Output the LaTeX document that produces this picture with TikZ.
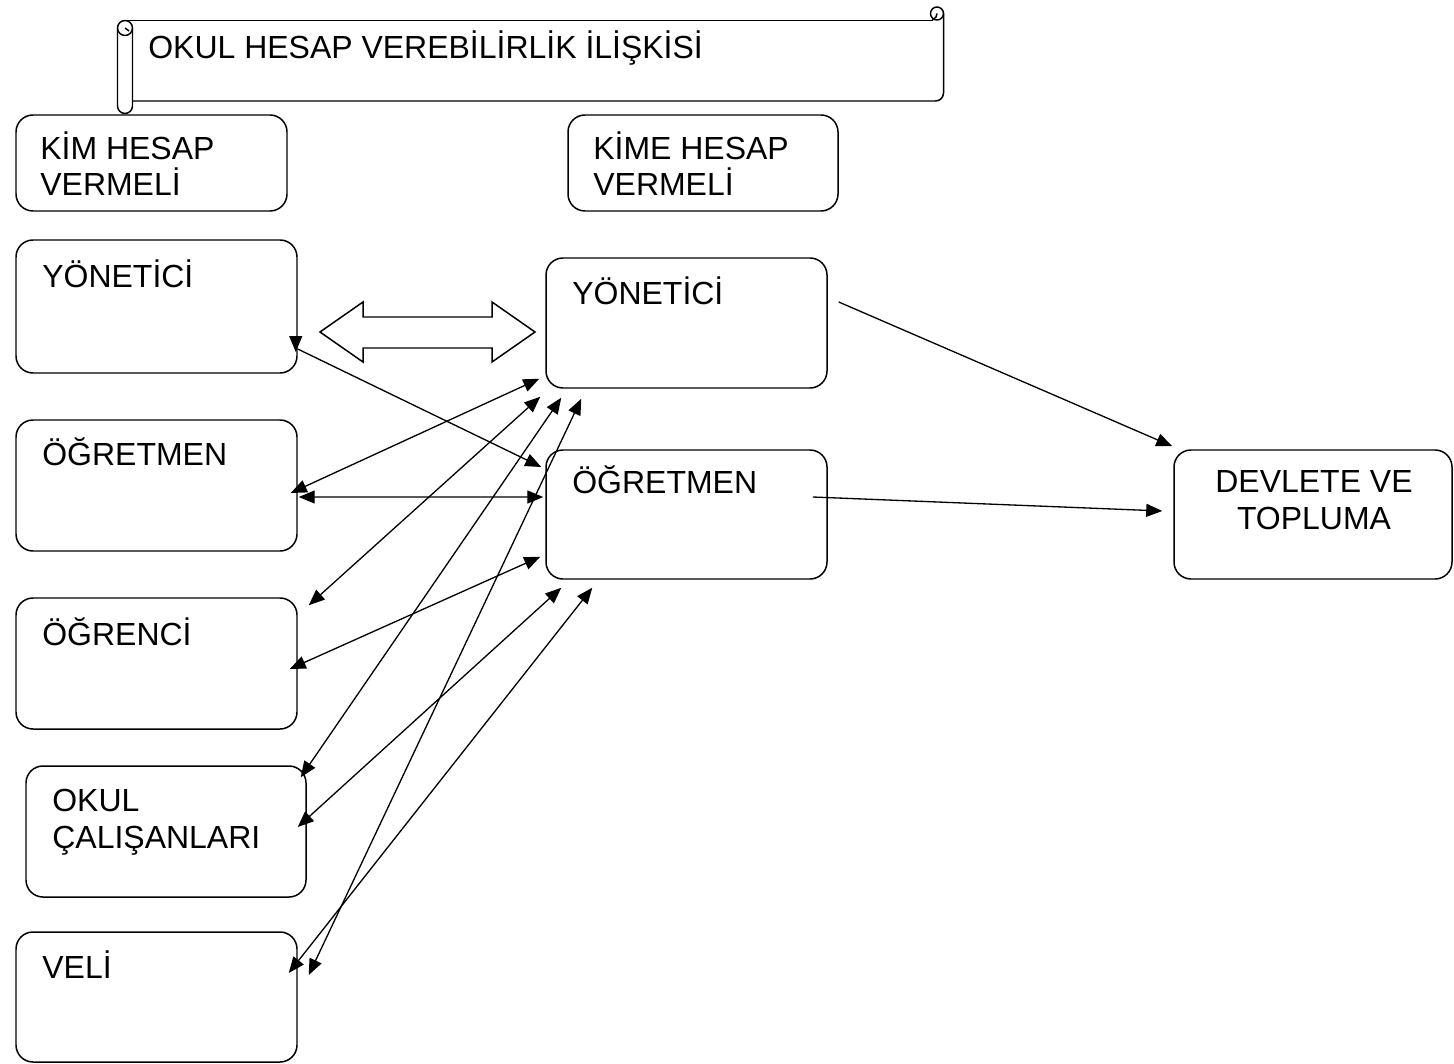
\documentclass[tikz,border=0pt]{standalone}
\usepackage{fontspec}
\setmainfont{Liberation Sans}
\usetikzlibrary{arrows.meta,calc,fit}
\begin{document}
\begin{tikzpicture}[x=0.02cm,y=-0.02cm,
  >={Triangle[length=0.32cm,width=0.26cm]},
  box/.style={draw,line width=0.85pt,rounded corners=0.34cm,inner sep=0pt},
  lbl/.style={inner sep=0pt,anchor=base west,align=left,font=\fontsize{18.2}{21}\selectfont},
  clbl/.style={inner sep=0pt,anchor=base,align=center,font=\fontsize{18.2}{21}\selectfont},
  conn/.style={line width=0.75pt,<->},
  oneway/.style={line width=0.75pt,->},
  scroll/.style={line width=0.85pt,line join=round}]
\useasboundingbox (0,0) rectangle (1454,1064);

% banner scroll
\draw[scroll] (125,20.5) -- (932,20.5);
\draw[scroll] (937,13.5) circle[radius=0.13cm];
\draw[scroll] (932,20.5) -- (936,17) -- (937,13.5);
\draw[scroll,rounded corners=0.16cm] (943.5,13.5) -- (943.5,101) -- (132.5,101);
\draw[scroll] (125,28) circle[radius=0.15cm];
\draw[scroll] (117.5,28) -- (117.5,106) arc[start angle=180,end angle=360,radius=0.15cm] -- (132.5,28);
\draw[scroll] (125,28) -- (129,31);
\node[lbl] (title) at (148,59) {OKUL HESAP VEREBİLİRLİK İLİŞKİSİ};

% header boxes (multi-line labels are anchored at their last baseline)
\node[box,fit={(16,115) (287,211)}] (kim) {};
\node[lbl] (kim-t) at (40,196) {KİM HESAP\\VERMELİ};
\node[box,fit={(568,115) (838,211)}] (kime) {};
\node[lbl] (kime-t) at (593,196) {KİME HESAP\\VERMELİ};

% left column
\node[box,fit={(16,240) (297,373)}] (ly) {};
\node[lbl] (ly-t) at (42,288) {YÖNETİCİ};
\node[box,fit={(16,420) (297,551)}] (lo) {};
\node[lbl] (lo-t) at (42,465) {ÖĞRETMEN};
\node[box,fit={(16,598) (297,729)}] (lc) {};
\node[lbl] (lc-t) at (42,645) {ÖĞRENCİ};
\node[box,fit={(26,766) (306,897)}] (lk) {};
\node[lbl] (lk-t) at (52,848) {OKUL\\ÇALIŞANLARI};
\node[box,fit={(16,932) (297,1062)}] (lv) {};
\node[lbl] (lv-t) at (42,978) {VELİ};

% middle column
\node[box,fit={(546,258) (827,388)}] (ry) {};
\node[lbl] (ry-t) at (572,304) {YÖNETİCİ};
\node[box,fit={(546,450) (827,579)}] (ro) {};
\node[lbl] (ro-t) at (572,493) {ÖĞRETMEN};

% right box
\node[box,fit={(1174,450) (1452,579)}] (dt) {};
\node[clbl] (dt-t) at (1314,529) {DEVLETE VE\\TOPLUMA};

% block double arrow
\draw[line width=0.85pt] (320,332) -- (363,302) -- (363,317) -- (492,317) -- (492,302)
  -- (535,332) -- (492,362) -- (492,348) -- (363,348) -- (363,362) -- cycle;

% connectors
\draw[oneway] ($(ly.east)+(0,42.5)$) -- ($(ro.west)+(-4,-47.5)$);
\draw[oneway] ($(ly.east)+(-2,29.5)$) -- ($(ly.east)+(-2,45.5)$);
\draw[conn] ($(lo.east)+(-7,7.5)$) -- ($(ry.south west)+(-6,-10)$);
\draw[conn] ($(lo.east)+(1,11.5)$) -- ($(ro.west)+(-2,-17.5)$);
\draw[conn] ($(lc.north east)+(11,8)$) -- ($(ry.south west)+(-5,8)$);
\draw[conn] ($(lk.north east)+(-6,12)$) -- ($(ry.south west)+(16,9)$);
\draw[conn] ($(lv.east)+(11,-22)$) -- ($(ry.south west)+(36,10)$);
\draw[conn] ($(lc.east)+(-8,5.5)$) -- ($(ro.south west)+(-5,-23)$);
\draw[conn] ($(lk.east)+(-9,-4.5)$) -- ($(ro.south west)+(16,8)$);
\draw[conn] ($(lv.east)+(-9,-24)$) -- ($(ro.south west)+(47,8)$);
\draw[oneway] ($(ry.east)+(11,-21)$) -- ($(dt.north west)+(-1,-3)$);
\draw[oneway] ($(ro.east)+(-15,-17.5)$) -- ($(dt.west)+(-11,-3.5)$);
\end{tikzpicture}
\end{document}
